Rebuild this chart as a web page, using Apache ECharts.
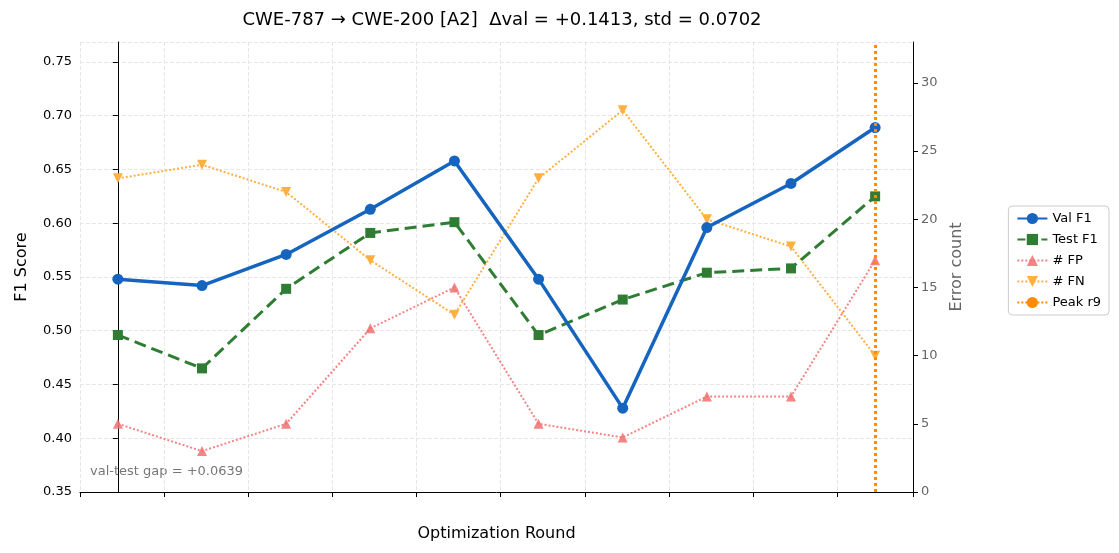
<!DOCTYPE html><html><head><meta charset="utf-8"><script src="https://cdn.jsdelivr.net/npm/echarts@6/dist/echarts.min.js"></script></head><body style="margin:0"><div id="c" style="width:1119px;height:553px"></div><script>
const rounds=[0,1,2,3,4,5,6,7,8,9];
const valF1=[0.548,0.542,0.571,0.613,0.658,0.548,0.428,0.596,0.637,0.689];
const testF1=[0.496,0.465,0.539,0.591,0.601,0.496,0.529,0.554,0.558,0.625];
const fp=[5,3,5,12,15,5,4,7,7,17];
const fn=[23,24,22,17,13,23,28,20,18,10];
const peak=9;
const z=a=>a.map((v,i)=>[rounds[i],v]);
const ch=echarts.init(document.getElementById('c'));
const f='DejaVu Sans';
ch.setOption({animation:false,textStyle:{fontFamily:f},
title:{text:'CWE-787 → CWE-200 [A2]  Δval = +0.1413, std = 0.0702',left:497,textAlign:'center',top:6,textStyle:{fontSize:18,fontWeight:'normal',color:'#000',fontFamily:f}},
grid:{left:80,right:206,top:42,bottom:61},
legend:{right:10,top:206,orient:'vertical',itemWidth:30,itemGap:8,textStyle:{fontSize:13,color:'#000'},borderColor:'#ccc',borderWidth:1,borderRadius:4,padding:[6,8],
data:['Val F1','Test F1','# FP','# FN','Peak r9']},
xAxis:{type:'value',min:-0.45,max:9.45,interval:1,name:'Optimization Round',nameLocation:'middle',nameGap:34,nameTextStyle:{fontSize:16,color:'#000'},
axisLabel:{fontSize:13,color:'#000',formatter:v=>Number.isInteger(v)?v:''},axisTick:{show:true},axisLine:{lineStyle:{color:'#000'}},
splitLine:{show:true,lineStyle:{type:'dashed',color:'#e6e6e6'}},customValues:rounds},
yAxis:[{type:'value',min:0.35,max:0.7686,interval:0.05,name:'F1 Score',nameLocation:'middle',nameGap:50,nameTextStyle:{fontSize:16,color:'#000'},
axisLabel:{fontSize:13,color:'#000',formatter:v=>v.toFixed(2),showMaxLabel:false},axisLine:{show:true,lineStyle:{color:'#000'}},axisTick:{show:true},
splitLine:{lineStyle:{type:'dashed',color:'#e6e6e6'}}},
{type:'value',min:0,max:33,interval:5,name:'Error count',nameLocation:'middle',nameGap:34,nameTextStyle:{fontSize:16,color:'#666'},
axisLabel:{fontSize:13,color:'#666',showMaxLabel:false},axisLine:{show:true,lineStyle:{color:'#000'}},axisTick:{show:true},splitLine:{show:false}}],
graphic:[{type:'text',left:90,top:465,style:{text:'val-test gap = +0.0639',fontSize:13,fill:'#777',fontFamily:f}}],
series:[
{name:'# FP',type:'line',yAxisIndex:1,data:z(fp),symbol:'triangle',symbolSize:10,itemStyle:{color:'#f07070',opacity:0.85},lineStyle:{type:'dotted',width:2,color:'#f07070',opacity:0.85}},
{name:'# FN',type:'line',yAxisIndex:1,data:z(fn),symbol:'path://M0,0 L10,0 L5,9 Z',symbolSize:10,itemStyle:{color:'#ffb040'},lineStyle:{type:'dotted',width:2,color:'#ffb040'}},
{name:'Test F1',type:'line',data:z(testF1),symbol:'rect',symbolSize:10,itemStyle:{color:'#2e7d32'},lineStyle:{type:'dashed',width:3,color:'#2e7d32'}},
{name:'Val F1',type:'line',data:z(valF1),symbol:'circle',symbolSize:11,itemStyle:{color:'#1565c0'},lineStyle:{width:3.5,color:'#1565c0'}},
{name:'Peak r9',type:'line',data:[],itemStyle:{color:'#ff8c00'},lineStyle:{type:'dotted',width:3,color:'#ff8c00'},symbol:'none',
markLine:{symbol:'none',silent:true,label:{show:false},lineStyle:{type:'dotted',width:3,color:'#ff8c00'},data:[{xAxis:peak}]}}
]});
</script></body></html>
